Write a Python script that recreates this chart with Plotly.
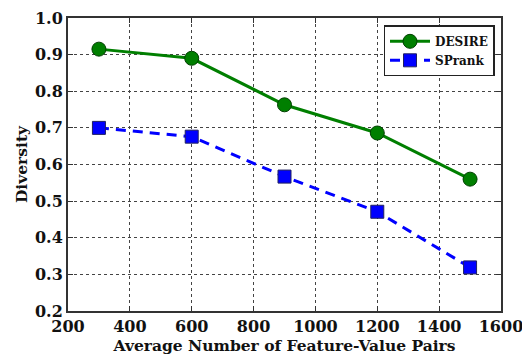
import plotly.graph_objects as go

x_vals = [300, 600, 900, 1200, 1500]
desire = [0.915, 0.890, 0.763, 0.686, 0.560]
sprank = [0.700, 0.676, 0.567, 0.471, 0.319]

x_ticks = [200, 400, 600, 800, 1000, 1200, 1400, 1600]
y_ticks = [0.2, 0.3, 0.4, 0.5, 0.6, 0.7, 0.8, 0.9, 1.0]

FONT = "DejaVu Serif"

fig = go.Figure()
fig.add_trace(go.Scatter(
    x=x_vals, y=desire, name="<b>DESIRE</b>", mode="lines+markers",
    line=dict(color="#007f00", width=3),
    marker=dict(symbol="circle", size=14, color="#007f00",
                line=dict(color="#004000", width=1)),
))
fig.add_trace(go.Scatter(
    x=x_vals, y=sprank, name="<b>SPrank</b>", mode="lines+markers",
    line=dict(color="#0000ff", width=3, dash="10px,7px"),
    marker=dict(symbol="square", size=13, color="#0000ff",
                line=dict(color="#202060", width=1)),
))

axis_common = dict(
    showgrid=True, gridcolor="#444444", griddash="dot", gridwidth=1,
    showline=True, linecolor="#333333", linewidth=2, mirror="ticks",
    ticks="inside", ticklen=5, tickcolor="#333333",
    zeroline=False, automargin=False, ticklabeloverflow="allow",
    tickfont=dict(family=FONT, size=16, color="#111111", weight="bold"),
)

fig.update_xaxes(
    range=[200, 1600], tickvals=x_ticks,
    title=dict(text="<b>Average Number of Feature-Value Pairs</b>",
               font=dict(family=FONT, size=15.5, color="#111111"), standoff=4),
    **axis_common,
)
fig.update_yaxes(
    range=[0.2, 1.0], tickvals=y_ticks, tickformat=".1f",
    title=dict(text="<b>Diversity</b>",
               font=dict(family=FONT, size=15.5, color="#111111"), standoff=4),
    **axis_common,
)

fig.update_layout(
    width=522, height=356,
    margin=dict(l=68, r=21, t=18, b=45),
    plot_bgcolor="white", paper_bgcolor="white",
    font=dict(family=FONT, color="#111111"),
    legend=dict(
        x=0.985, y=0.975, xanchor="right", yanchor="top",
        bgcolor="white", bordercolor="#222222", borderwidth=1.5,
        font=dict(family=FONT, size=12, color="#111111"),
        itemwidth=40, tracegroupgap=0,
    ),
    showlegend=True,
)

fig.write_html("out.html")
